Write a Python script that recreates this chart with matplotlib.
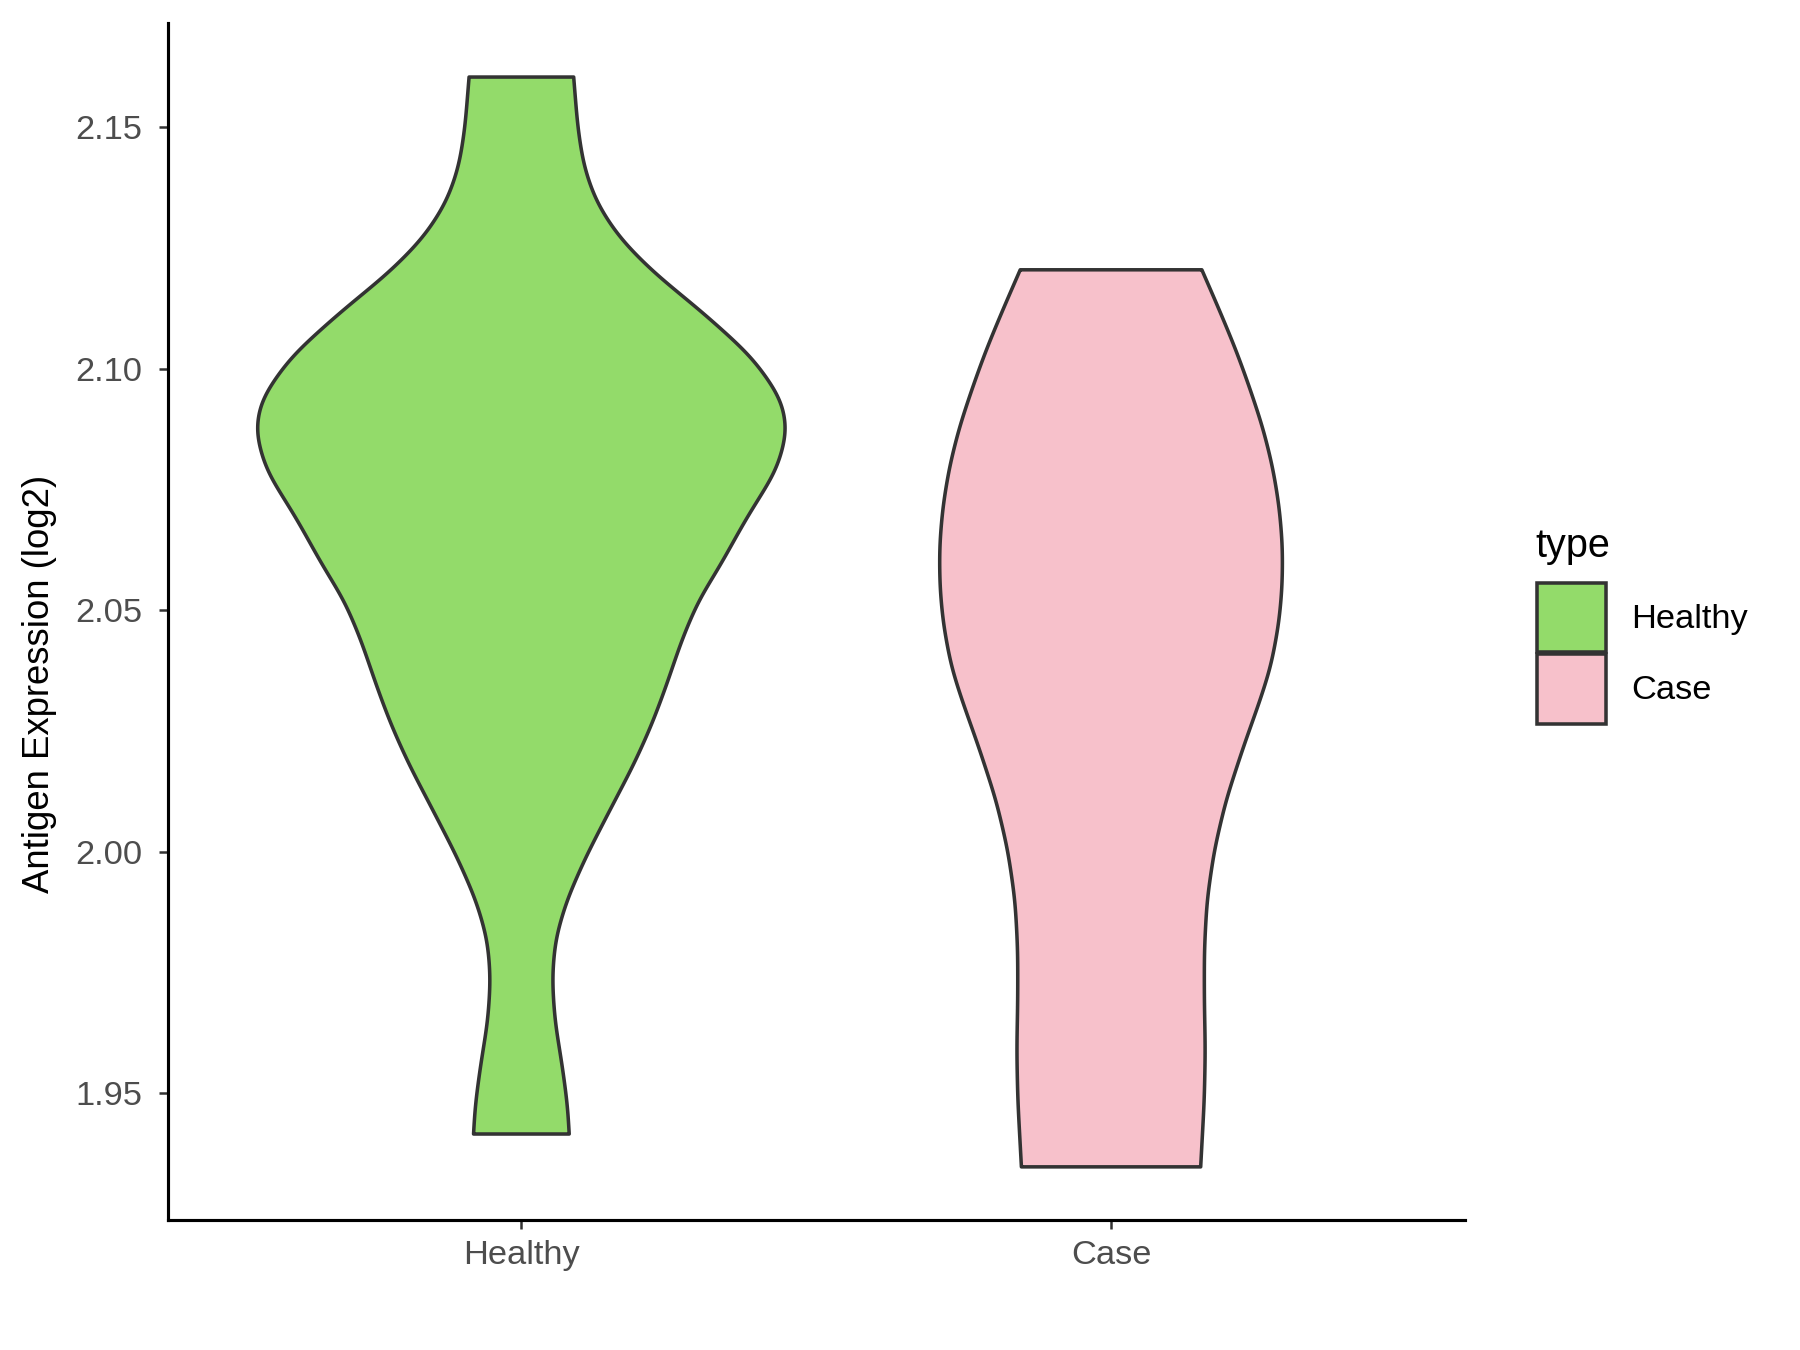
import matplotlib
matplotlib.use("Agg")
import matplotlib.pyplot as plt
from matplotlib.patches import Patch
import numpy as np

plt.rcParams['font.family'] = ['Liberation Sans', 'DejaVu Sans']

# groups and colours
groups = ['Healthy', 'Case']
fills = ['#93DB6A', '#F7C1CB']
edge = '#333333'

# violin outlines: expression value and half width (x units)
healthy_y = [1.9416, 1.9472, 1.9560, 1.9649, 1.9738, 1.9819, 1.9900, 1.9989, 2.0085,
             2.0181, 2.0263, 2.0340, 2.0440, 2.0522, 2.0590, 2.0693, 2.0789, 2.0871,
             2.0937, 2.1026, 2.1122, 2.1196, 2.1270, 2.1344, 2.1418, 2.1499, 2.1604]
healthy_w = [0.0811, 0.0787, 0.0690, 0.0569, 0.0521, 0.0575, 0.0769, 0.1090, 0.1495,
             0.1907, 0.2210, 0.2446, 0.2724, 0.3008, 0.3360, 0.3826, 0.4328, 0.4516,
             0.4419, 0.3905, 0.3027, 0.2270, 0.1665, 0.1271, 0.1059, 0.0956, 0.0887]

case_y = [1.9348, 1.9487, 1.9590, 1.9693, 1.9797, 1.9900, 2.0004, 2.0107, 2.0218,
          2.0314, 2.0384, 2.0473, 2.0549, 2.0632, 2.0715, 2.0798, 2.0880, 2.0963,
          2.1039, 2.1122, 2.1205]
case_w = [0.1520, 0.1582, 0.1599, 0.1582, 0.1582, 0.1627, 0.1751, 0.1949, 0.2246,
          0.2528, 0.2712, 0.2847, 0.2904, 0.2910, 0.2853, 0.2740, 0.2571, 0.2345,
          0.2119, 0.1836, 0.1540]

yticks = [1.95, 2.00, 2.05, 2.10, 2.15]


def outline(ys, ws, n=600, sigma=0.003):
    # dense linear interpolation of the read points, gaussian-smoothed
    yy = np.linspace(ys[0], ys[-1], n)
    ww = np.interp(yy, ys, ws)
    dy = yy[1] - yy[0]
    k = int(4 * sigma / dy)
    kern = np.exp(-0.5 * (np.arange(-k, k + 1) * dy / sigma) ** 2)
    kern /= kern.sum()
    left = 2 * ww[0] - ww[k:0:-1]
    right = 2 * ww[-1] - ww[-2:-k - 2:-1]
    ws_s = np.convolve(np.concatenate([left, ww, right]), kern, mode='valid')
    return yy, ws_s


fig = plt.figure(figsize=(12, 9), dpi=150)
ax = fig.add_axes([0.0931, 0.0963, 0.7207, 0.8867])

for i, (ys, ws) in enumerate([(healthy_y, healthy_w), (case_y, case_w)]):
    yy, ww = outline(ys, ws)
    cx = i + 1
    xs = np.concatenate([cx - ww, (cx + ww)[::-1]])
    ys2 = np.concatenate([yy, yy[::-1]])
    ax.fill(xs, ys2, facecolor=fills[i], edgecolor=edge, linewidth=1.7, joinstyle='round')

ax.set_xlim(0.4, 2.6)
ax.set_ylim(1.9238, 2.1716)
ax.set_xticks([1, 2])
ax.set_xticklabels(groups)
ax.set_yticks(yticks)
ax.set_yticklabels([f'{v:.2f}' for v in yticks])
ax.set_ylabel('Antigen Expression (log2)', fontsize=17.5)
ax.yaxis.set_label_coords(-0.085, 0.448)

for s in ['top', 'right']:
    ax.spines[s].set_visible(False)
for s in ['left', 'bottom']:
    ax.spines[s].set_linewidth(1.5)
    ax.spines[s].set_color('black')
ax.tick_params(axis='both', length=4.5, width=1.2, color='#333333',
               labelsize=16.5, labelcolor='#4D4D4D')
ax.tick_params(axis='x', pad=5)
ax.tick_params(axis='y', pad=7.5)

# legend: title as its own text, keys below it
fig.text(0.8528, 0.5874, 'type', fontsize=19, va='baseline', ha='left')
handles = [Patch(facecolor=fills[i], edgecolor=edge, linewidth=1.7, label=groups[i])
           for i in range(2)]
fig.legend(handles=handles, loc='upper left', bbox_to_anchor=(0.8539, 0.5681),
           frameon=False, fontsize=16.5,
           handlelength=2.0, handleheight=2.72, handletextpad=0.75, labelspacing=0.06,
           borderpad=0, borderaxespad=0)

fig.savefig('out.png', dpi=150)
